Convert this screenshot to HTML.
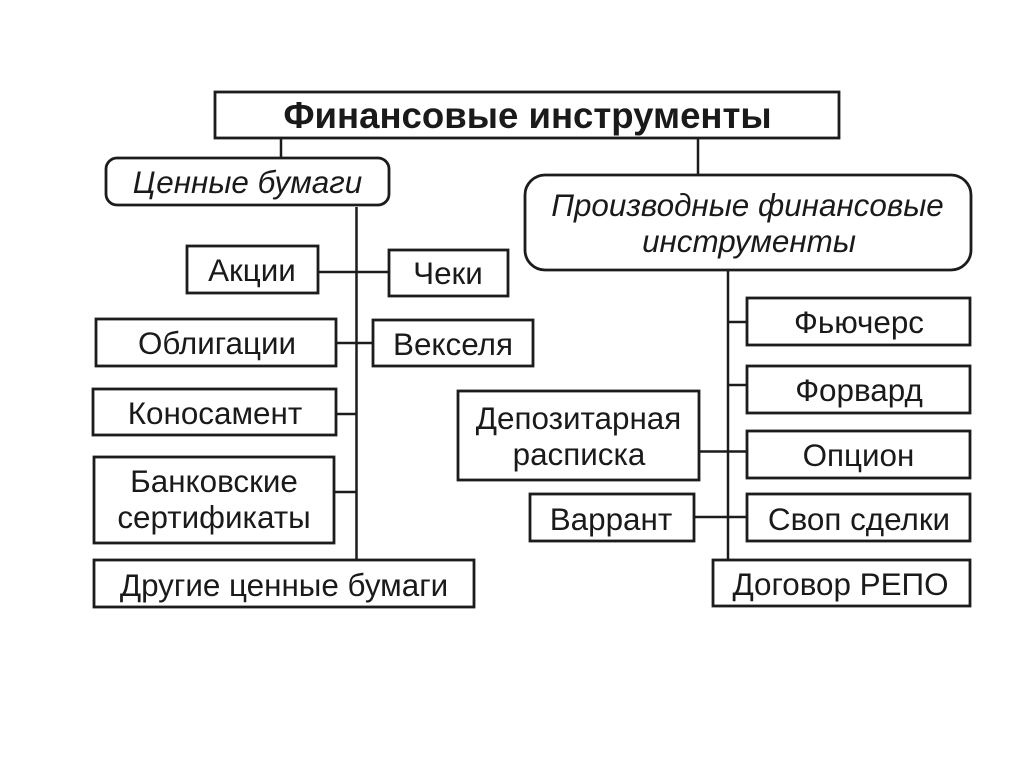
<!DOCTYPE html>
<html lang="ru">
<head>
<meta charset="utf-8">
<style>
html,body{margin:0;padding:0;background:#fff}
svg{display:block}
text{font-family:"Liberation Sans",sans-serif;fill:#1a1a1a;text-anchor:middle}
.b{fill:#fff;stroke:#1c1c1c;stroke-width:2.8}
.l{stroke:#1c1c1c;stroke-width:2.5;fill:none}
.t{font-size:31.4px}
.i{font-size:31.4px;font-style:italic}
</style>
</head>
<body>
<svg width="1024" height="767" viewBox="0 0 1024 767" xmlns="http://www.w3.org/2000/svg">
<rect x="0" y="0" width="1024" height="767" fill="#fff"/>
<path class="l" d="M281 138V158M698 138V175M356.500 207V559M728 270V559M318 272H388M336 343H373M336 414H357M334 492H357M699 451.500H747M728 322H747M728 385H747M694 517H749"/>
<rect class="b" x="215" y="92" width="624" height="46"/>
<rect class="b" x="106" y="158" width="283" height="47" rx="11"/>
<rect class="b" x="525" y="175" width="446" height="95" rx="20"/>
<rect class="b" x="187" y="246" width="131" height="47"/>
<rect class="b" x="389" y="250" width="119" height="46"/>
<rect class="b" x="96" y="319" width="240" height="47"/>
<rect class="b" x="373" y="320" width="160" height="46"/>
<rect class="b" x="93" y="389" width="243" height="46"/>
<rect class="b" x="94" y="457" width="240" height="86"/>
<rect class="b" x="94" y="560" width="380" height="47"/>
<rect class="b" x="747" y="298" width="223" height="47"/>
<rect class="b" x="747" y="366" width="223" height="47"/>
<rect class="b" x="747" y="431" width="223" height="47"/>
<rect class="b" x="747" y="494" width="223" height="47"/>
<rect class="b" x="713" y="560" width="257" height="46"/>
<rect class="b" x="458" y="391" width="241" height="89"/>
<rect class="b" x="530" y="494" width="164" height="47"/>
<text x="527.500" y="128" font-size="36.600" font-weight="bold">Финансовые инструменты</text>
<text class="i" x="247.500" y="193">Ценные бумаги</text>
<text class="i" x="747.500" y="216">Производные финансовые</text>
<text class="i" x="749" y="252">инструменты</text>
<text class="t" x="252" y="281">Акции</text>
<text class="t" x="448" y="284">Чеки</text>
<text class="t" x="217" y="354">Облигации</text>
<text class="t" x="453" y="355">Векселя</text>
<text class="t" x="215" y="424">Коносамент</text>
<text class="t" x="214" y="492">Банковские</text>
<text class="t" x="214" y="528">сертификаты</text>
<text class="t" x="284" y="596">Другие ценные бумаги</text>
<text class="t" x="859" y="333">Фьючерс</text>
<text class="t" x="859" y="401">Форвард</text>
<text class="t" x="858.500" y="466">Опцион</text>
<text class="t" x="859" y="530">Своп сделки</text>
<text class="t" x="840.500" y="595">Договор РЕПО</text>
<text class="t" x="578.500" y="429">Депозитарная</text>
<text class="t" x="579" y="465">расписка</text>
<text class="t" x="611" y="530">Варрант</text>
</svg>
</body>
</html>
